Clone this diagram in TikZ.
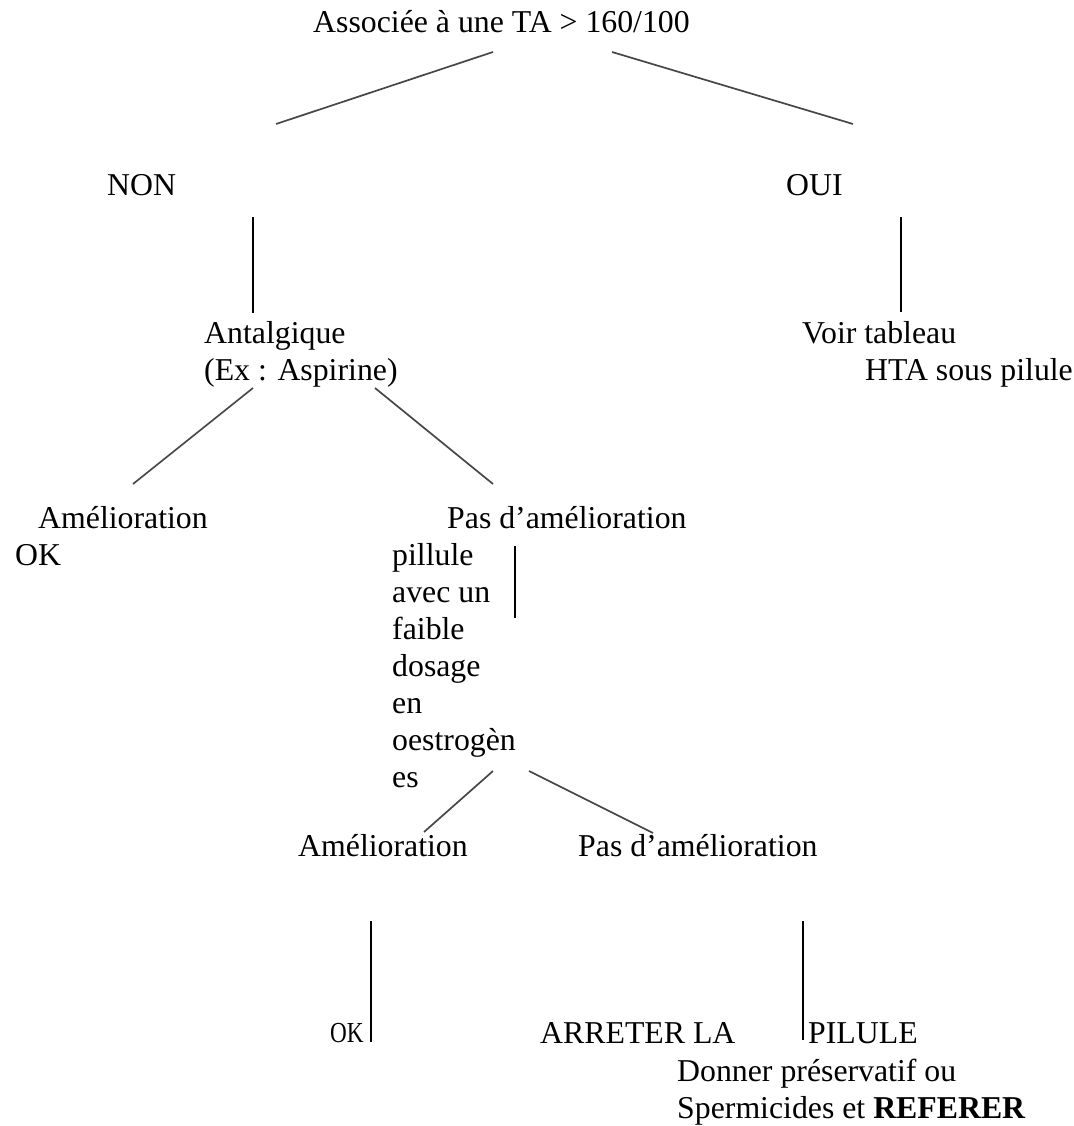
\documentclass[tikz,border=0pt]{standalone}
\usepackage{fontspec}
\setmainfont{Liberation Serif}
\begin{document}
\begin{tikzpicture}[x=1pt,y=-1pt,
  txt/.style={anchor=base west, inner sep=0pt, font=\fontsize{31.8}{37.3}\selectfont},
  diag/.style={draw=black!72, line width=1.7pt},
  vthin/.style={draw=black, line width=1.5pt},
  vthick/.style={draw=black, line width=2.8pt}]
\useasboundingbox[fill=white] (0,0) rectangle (1073,1126);

% ---- texts ----
\node[txt] (root) at (313,33) {Associée à une TA > 160/100};
\node[txt] (non) at (107,196) {NON};
\node[txt] (oui) at (786,196) {OUI};
\node[txt] (antal) at (204,343) {Antalgique};
\node[txt] (antalex) at (204,380) {(Ex : Aspirine)};
\node[txt] (voir) at (802,343) {Voir tableau};
\node[txt] (hta) at (865,380) {HTA sous pilule};
\node[txt] (amelA) at (38,528) {Amélioration};
\node[txt] (okA) at (15,565) {OK};
\node[txt] (pasA) at (447,528) {Pas d’amélioration};
\node[txt] (pil1) at (392,565) {pillule};
\node[txt] (pil2) at (392,602) {avec un};
\node[txt] (pil3) at (392,639) {faible};
\node[txt] (pil4) at (392,676) {dosage};
\node[txt] (pil5) at (392,713) {en};
\node[txt] (pil6) at (392,750) {oestrogèn};
\node[txt] (pil7) at (392,787) {es};
\node[txt] (amelB) at (298,856) {Amélioration};
\node[txt] (pasB) at (578,856) {Pas d’amélioration};
\node[txt, font=\fontsize{29}{34}\selectfont] (okB) at (330,1042) {\scalebox{0.8}[1]{OK}};
\node[txt] (arr) at (540,1043) {ARRETER LA};
\node[txt] (pilule) at (808,1043) {PILULE};
\node[txt] (donner) at (677,1081) {Donner préservatif ou};
\node[txt] (sperm) at (677,1118) {Spermicides et \textbf{REFERER}};

% ---- connector end points ----
\coordinate (r-l) at (493,52);  \coordinate (non-t) at (276,124);
\coordinate (r-r) at (612,52);  \coordinate (oui-t) at (853,124);
\coordinate (non-a) at (253,217); \coordinate (antal-t) at (253,313);
\coordinate (oui-a) at (901,217); \coordinate (voir-t) at (901,312);
\coordinate (ant-l) at (253,388); \coordinate (amelA-t) at (133,484);
\coordinate (ant-r) at (375,388); \coordinate (pasA-t) at (493,484);
\coordinate (pas-a) at (515,546); \coordinate (pas-b) at (515,618);
\coordinate (pil-l) at (493,771); \coordinate (amelB-t) at (424,832);
\coordinate (pil-r) at (529,771); \coordinate (pasB-t) at (653,833);
\coordinate (amB-a) at (371,921); \coordinate (okB-t) at (371,1042);
\coordinate (paB-a) at (803,921); \coordinate (arr-t) at (803,1040);

% ---- connectors ----
\draw[diag] (r-l) -- (non-t);
\draw[diag] (r-r) -- (oui-t);
\draw[vthin] (non-a) -- (antal-t);
\draw[vthin] (oui-a) -- (voir-t);
\draw[diag] (ant-l) -- (amelA-t);
\draw[diag] (ant-r) -- (pasA-t);
\draw[vthick] (pas-a) -- (pas-b);
\draw[diag] (pil-l) -- (amelB-t);
\draw[diag] (pil-r) -- (pasB-t);
\draw[vthick] (amB-a) -- (okB-t);
\draw[vthick] (paB-a) -- (arr-t);
\end{tikzpicture}
\end{document}
